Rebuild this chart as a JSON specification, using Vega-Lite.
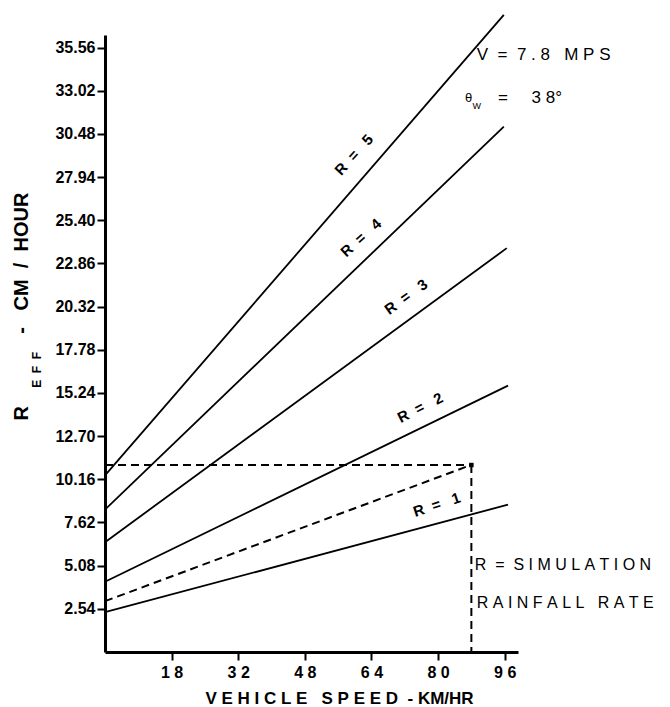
{
  "$schema": "https://vega.github.io/schema/vega-lite/v6.json",
  "width": 413,
  "height": 617,
  "autosize": {"type": "none"},
  "padding": {"left": 105, "top": 35, "right": 152, "bottom": 55},
  "background": "white",
  "config": {"view": {"stroke": null}, "font": "Liberation Sans"},
  "datasets": {
    "solid": [
      {"R": "R5", "speed": 0, "reff": 10.39}, {"R": "R5", "speed": 95.8, "reff": 37.48},
      {"R": "R4", "speed": 0, "reff": 8.38}, {"R": "R4", "speed": 95.8, "reff": 30.91},
      {"R": "R3", "speed": 0, "reff": 6.46}, {"R": "R3", "speed": 96.5, "reff": 23.76},
      {"R": "R2", "speed": 0, "reff": 4.13}, {"R": "R2", "speed": 96.8, "reff": 15.67},
      {"R": "R1", "speed": 0, "reff": 2.34}, {"R": "R1", "speed": 96.8, "reff": 8.67}
    ],
    "dashed": [
      {"seg": "diag", "speed": 0, "reff": 2.99}, {"seg": "diag", "speed": 87.9, "reff": 11.0},
      {"seg": "horiz", "speed": 0, "reff": 11.0}, {"seg": "horiz", "speed": 87.9, "reff": 11.0},
      {"seg": "vert", "speed": 88.0, "reff": 11.0}, {"seg": "vert", "speed": 88.0, "reff": 0}
    ],
    "corner": [{"speed": 88.0, "reff": 11.0}],
    "rlabels": [
      {"t": "R\u00a0\u00a0=\u00a0\u00a0\u00a05", "speed": 59.8, "reff": 29.25, "ang": -48},
      {"t": "R\u00a0\u00a0=\u00a0\u00a0\u00a04", "speed": 61.5, "reff": 24.37, "ang": -42},
      {"t": "R\u00a0\u00a0=\u00a0\u00a0\u00a03", "speed": 72.3, "reff": 20.9, "ang": -36},
      {"t": "R\u00a0\u00a0=\u00a0\u00a0\u00a02", "speed": 75.7, "reff": 14.37, "ang": -27},
      {"t": "R\u00a0\u00a0=\u00a0\u00a0\u00a01", "speed": 79.7, "reff": 8.67, "ang": -18}
    ],
    "notes": [
      {"t": "V\u00a0\u00a0=\u00a0\u00a07\u00a0.\u00a08\u00a0\u00a0\u00a0M\u00a0P\u00a0S", "speed": 89.3, "reff": 35.1, "sz": 17},
      {"t": "θ", "speed": 86.45, "reff": 32.57, "sz": 13},
      {"t": "W", "speed": 88.3, "reff": 32.1, "sz": 9},
      {"t": "=\u00a0\u00a0\u00a0\u00a0\u00a03\u00a08°", "speed": 94.4, "reff": 32.6, "sz": 17},
      {"t": "R\u00a0\u00a0=\u00a0\u00a0S\u00a0I\u00a0M\u00a0U\u00a0L\u00a0A\u00a0T\u00a0I\u00a0O\u00a0N", "speed": 88.8, "reff": 5.14, "sz": 16},
      {"t": "R\u00a0A\u00a0I\u00a0N\u00a0F\u00a0A\u00a0L\u00a0L\u00a0\u00a0\u00a0R\u00a0A\u00a0T\u00a0E", "speed": 89.3, "reff": 2.88, "sz": 16}
    ],
    "sub": [{"t": "E\u00a0\u00a0F\u00a0\u00a0F", "speed": -16.4, "reff": 16.6}]
  },
  "layer": [
    {
      "data": {"name": "solid"},
      "mark": {"type": "line", "color": "black", "strokeWidth": 1.8},
      "encoding": {
        "x": {
          "field": "speed", "type": "quantitative",
          "scale": {"domain": [0, 99.2], "nice": false},
          "axis": {
            "values": [16, 32, 48, 64, 80, 96],
            "labelExpr": "datum.value == 16 ? '1 8' : slice(datum.label, 0, 1) + ' ' + slice(datum.label, 1)",
            "grid": false,
            "domainColor": "black", "domainWidth": 3,
            "tickColor": "black", "tickWidth": 2, "tickSize": 8,
            "labelColor": "black", "labelFontSize": 16, "labelFontWeight": "bold", "labelPadding": 4,
            "title": "V\u00a0E\u00a0H\u00a0I\u00a0C\u00a0L\u00a0E\u00a0\u00a0\u00a0S\u00a0P\u00a0E\u00a0E\u00a0D\u00a0\u00a0-\u00a0KM/HR",
            "titleColor": "black", "titleFontSize": 17, "titleFontWeight": "bold",
            "titleX": 234, "titleY": 46, "titleAlign": "center", "titleBaseline": "middle"
          }
        },
        "y": {
          "field": "reff", "type": "quantitative",
          "scale": {"domain": [0, 36.3], "nice": false},
          "axis": {
            "values": [2.54, 5.08, 7.62, 10.16, 12.70, 15.24, 17.78, 20.32, 22.86, 25.40, 27.94, 30.48, 33.02, 35.56],
            "format": ".2f",
            "grid": false,
            "domainColor": "black", "domainWidth": 3,
            "tickColor": "black", "tickWidth": 2, "tickSize": 8,
            "labelColor": "black", "labelFontSize": 16, "labelFontWeight": "bold", "labelPadding": 2,
            "title": "R\u00a0\u00a0\u00a0\u00a0\u00a0\u00a0\u00a0\u00a0\u00a0\u00a0\u00a0\u00a0\u00a0-\u00a0\u00a0\u00a0CM\u00a0\u00a0/\u00a0\u00a0HOUR",
            "titleColor": "black", "titleFontSize": 20, "titleFontWeight": "bold",
            "titleAngle": 270, "titleX": -84, "titleY": 271, "titleAlign": "center", "titleBaseline": "middle"
          }
        },
        "detail": {"field": "R"}
      }
    },
    {
      "data": {"name": "dashed"},
      "mark": {"type": "line", "color": "black", "strokeWidth": 2, "strokeDash": [8, 5]},
      "encoding": {
        "x": {"field": "speed", "type": "quantitative"},
        "y": {"field": "reff", "type": "quantitative"},
        "detail": {"field": "seg"}
      }
    },
    {
      "data": {"name": "corner"},
      "mark": {"type": "point", "shape": "square", "filled": true, "color": "black", "size": 20, "opacity": 1},
      "encoding": {
        "x": {"field": "speed", "type": "quantitative"},
        "y": {"field": "reff", "type": "quantitative"}
      }
    },
    {
      "data": {"name": "rlabels"},
      "mark": {"type": "text", "color": "black", "fontSize": 15, "fontWeight": "bold", "align": "center", "baseline": "middle"},
      "encoding": {
        "x": {"field": "speed", "type": "quantitative"},
        "y": {"field": "reff", "type": "quantitative"},
        "text": {"field": "t"},
        "angle": {"field": "ang", "type": "quantitative", "scale": null}
      }
    },
    {
      "data": {"name": "notes"},
      "mark": {"type": "text", "color": "black", "align": "left", "baseline": "middle"},
      "encoding": {
        "x": {"field": "speed", "type": "quantitative"},
        "y": {"field": "reff", "type": "quantitative"},
        "text": {"field": "t"},
        "size": {"field": "sz", "type": "quantitative", "scale": null}
      }
    },
    {
      "data": {"name": "sub"},
      "mark": {"type": "text", "color": "black", "fontSize": 12, "fontWeight": "bold", "angle": 270, "align": "center", "baseline": "middle"},
      "encoding": {
        "x": {"field": "speed", "type": "quantitative"},
        "y": {"field": "reff", "type": "quantitative"},
        "text": {"field": "t"}
      }
    }
  ]
}
